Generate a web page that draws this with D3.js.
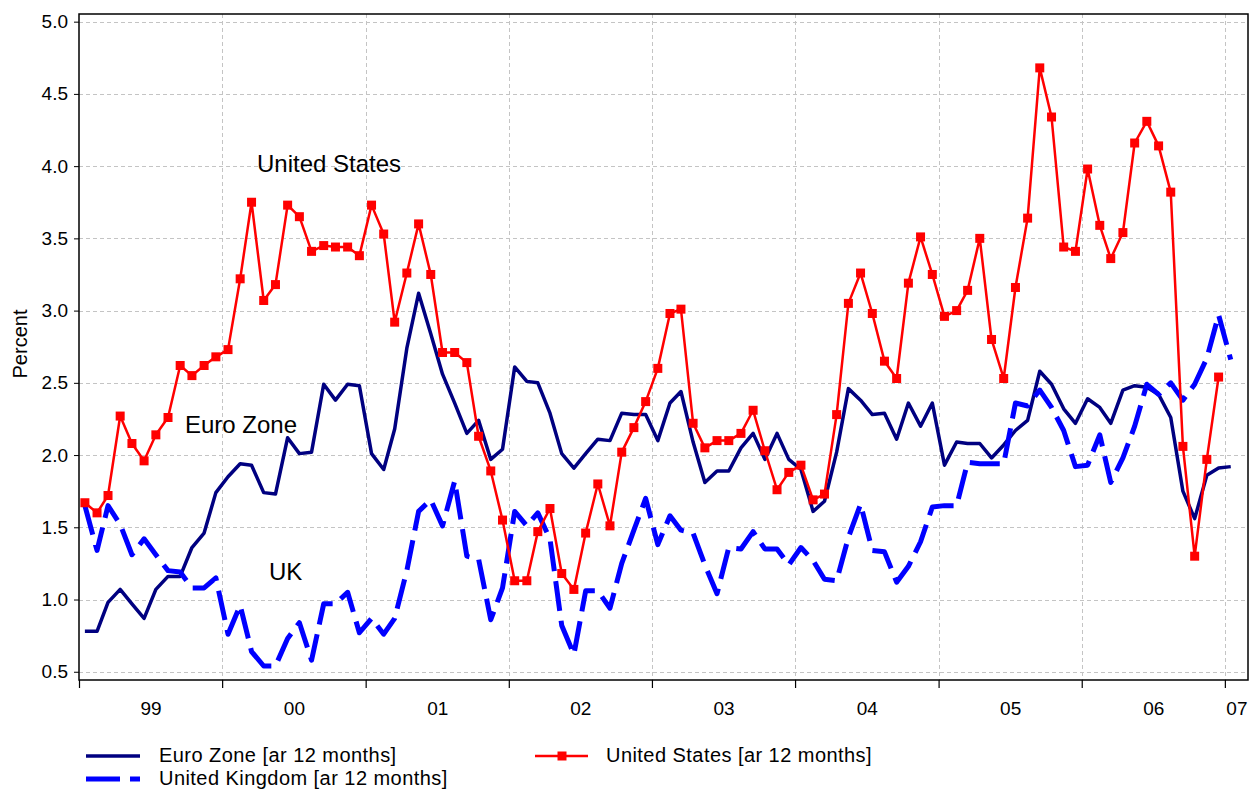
<!DOCTYPE html>
<html>
<head>
<meta charset="utf-8">
<script src="https://cdn.jsdelivr.net/npm/d3@7"></script>
<style>
  html, body { margin: 0; padding: 0; background: #fff; }
  svg { display: block; font-family: "Liberation Sans", Arial, sans-serif; }
</style>
</head>
<body>
<svg id="chart" width="1255" height="789"></svg>
<script>
// Monthly inflation, annual rate over 12 months (percent), from January 1999.
const startYear = 1999;

const euroZone = [
  0.78, 0.78, 0.98, 1.07, 0.97, 0.87, 1.07, 1.16, 1.16, 1.36, 1.46, 1.74,
  1.85, 1.94, 1.93, 1.74, 1.73, 2.12, 2.01, 2.02, 2.49, 2.38, 2.49, 2.48,
  2.01, 1.90, 2.18, 2.74, 3.12, 2.84, 2.56, 2.36, 2.15, 2.24, 1.97, 2.04,
  2.61, 2.51, 2.50, 2.29, 2.01, 1.91, 2.01, 2.11, 2.10, 2.29, 2.28, 2.28,
  2.10, 2.36, 2.44, 2.09, 1.81, 1.89, 1.89, 2.05, 2.15, 1.97, 2.15, 1.97,
  1.90, 1.61, 1.68, 2.02, 2.46, 2.38, 2.28, 2.29, 2.11, 2.36, 2.20, 2.36,
  1.93, 2.09, 2.08, 2.08, 1.98, 2.07, 2.17, 2.24, 2.58, 2.49, 2.32, 2.22,
  2.39, 2.33, 2.22, 2.45, 2.48, 2.47, 2.42, 2.26, 1.75, 1.56, 1.86, 1.91,
  1.92
];

const unitedKingdom = [
  1.65, 1.34, 1.65, 1.52, 1.31, 1.42, 1.31, 1.20, 1.19, 1.08, 1.08, 1.15,
  0.76, 0.96, 0.64, 0.54, 0.54, 0.73, 0.84, 0.58, 0.97, 0.97, 1.05, 0.77,
  0.87, 0.76, 0.87, 1.20, 1.61, 1.69, 1.51, 1.82, 1.30, 1.28, 0.86, 1.08,
  1.61, 1.51, 1.60, 1.42, 0.82, 0.62, 1.06, 1.06, 0.94, 1.25, 1.48, 1.70,
  1.38, 1.58, 1.48, 1.46, 1.24, 1.04, 1.36, 1.35, 1.47, 1.35, 1.35, 1.24,
  1.36, 1.27, 1.14, 1.13, 1.43, 1.66, 1.34, 1.33, 1.12, 1.23, 1.40, 1.64,
  1.65, 1.65, 1.95, 1.94, 1.94, 1.94, 2.36, 2.34, 2.45, 2.33, 2.17, 1.92,
  1.93, 2.14, 1.81, 1.98, 2.20, 2.49, 2.42, 2.50, 2.38, 2.49, 2.67, 2.97,
  2.66
];

const unitedStates = [
  1.67, 1.60, 1.72, 2.27, 2.08, 1.96, 2.14, 2.26, 2.62, 2.55, 2.62, 2.68,
  2.73, 3.22, 3.75, 3.07, 3.18, 3.73, 3.65, 3.41, 3.45, 3.44, 3.44, 3.38,
  3.73, 3.53, 2.92, 3.26, 3.60, 3.25, 2.71, 2.71, 2.64, 2.13, 1.89, 1.55,
  1.13, 1.13, 1.47, 1.63, 1.18, 1.07, 1.46, 1.80, 1.51, 2.02, 2.19, 2.37,
  2.60, 2.98, 3.01, 2.22, 2.05, 2.10, 2.10, 2.15, 2.31, 2.03, 1.76, 1.88,
  1.93, 1.69, 1.73, 2.28, 3.05, 3.26, 2.98, 2.65, 2.53, 3.19, 3.51, 3.25,
  2.96, 3.00, 3.14, 3.50, 2.80, 2.53, 3.16, 3.64, 4.68, 4.34, 3.44, 3.41,
  3.98, 3.59, 3.36, 3.54, 4.16, 4.31, 4.14, 3.82, 2.06, 1.30, 1.97, 2.54
];

const yTicks = [0.5, 1.0, 1.5, 2.0, 2.5, 3.0, 3.5, 4.0, 4.5, 5.0];
const yearLabels = ["99", "00", "01", "02", "03", "04", "05", "06", "07"];
const seriesNames = ["Euro Zone [ar 12 months]", "United States [ar 12 months]", "United Kingdom [ar 12 months]"];
const inlineNames = ["United States", "Euro Zone", "UK"];

// Layout
const svg = d3.select("#chart");
const plot = { left: 79, right: 1248, top: 14, bottom: 680 };
const FONT = '"Liberation Sans", Arial, sans-serif';

const monthDate = i => new Date(startYear, i, 16);
const x = d3.scaleTime()
  .domain([new Date(startYear, 0, 1), new Date(startYear + 8, 2, 1)])
  .range([plot.left, plot.right]);
const y = d3.scaleLinear()
  .domain([0.443, 5.053])
  .range([plot.bottom, plot.top]);

const yearStarts = yearLabels.map((_, k) => new Date(startYear + k, 0, 1));

// Grid
const grid = svg.append("g").attr("stroke", "#c4c4c4").attr("stroke-width", 1)
  .attr("stroke-dasharray", "4,3").attr("fill", "none");
grid.selectAll("line.h").data(yTicks).join("line").attr("class", "h")
  .attr("x1", plot.left).attr("x2", plot.right)
  .attr("y1", d => Math.round(y(d)) + 0.5).attr("y2", d => Math.round(y(d)) + 0.5);
grid.selectAll("line.v").data(yearStarts.slice(1)).join("line").attr("class", "v")
  .attr("x1", d => Math.round(x(d)) + 0.5).attr("x2", d => Math.round(x(d)) + 0.5)
  .attr("y1", plot.top).attr("y2", plot.bottom);

// Axes
const yAxis = svg.append("g")
  .attr("transform", `translate(${plot.left},0)`)
  .call(d3.axisLeft(y).tickValues(yTicks).tickFormat(d3.format(".1f")).tickSize(5).tickPadding(6));
yAxis.select(".domain").remove();
yAxis.selectAll("text").attr("font-size", 19).attr("font-family", FONT).attr("fill", "#000");
yAxis.selectAll("line").attr("stroke", "#000");

const xAxis = svg.append("g")
  .attr("transform", `translate(0,${plot.bottom})`)
  .call(d3.axisBottom(x).tickValues(yearStarts).tickFormat("").tickSize(8));
xAxis.select(".domain").remove();
xAxis.selectAll("line").attr("stroke", "#000").attr("stroke-width", 1.2);

// Year labels centred on the visible part of each year
const labelPos = yearStarts.map(d => {
  const a = x(d), b = Math.min(x(new Date(d.getFullYear() + 1, 0, 1)), plot.right);
  return (a + b) / 2;
});
const xLab = svg.append("g")
  .attr("transform", `translate(0,${plot.bottom})`)
  .call(d3.axisBottom(d3.scaleOrdinal().domain(yearLabels).range(labelPos))
    .tickSize(0).tickPadding(22));
xLab.select(".domain").remove();
xLab.selectAll("text").attr("font-size", 19).attr("font-family", FONT).attr("fill", "#000");

// Frame
svg.append("rect")
  .attr("x", plot.left).attr("y", plot.top)
  .attr("width", plot.right - plot.left).attr("height", plot.bottom - plot.top)
  .attr("fill", "none").attr("stroke", "#000").attr("stroke-width", 1.5);

// Y title
svg.append("text")
  .attr("transform", `translate(27,${(plot.top + plot.bottom) / 2 - 3}) rotate(-90)`)
  .attr("text-anchor", "middle").attr("font-size", 20).attr("font-family", FONT)
  .text("Percent");

// Series
const line = d3.line().x((d, i) => x(monthDate(i))).y(d => y(d));

svg.append("path").datum(euroZone)
  .attr("d", line).attr("fill", "none")
  .attr("stroke", "#000080").attr("stroke-width", 3.5).attr("stroke-linejoin", "round");

svg.append("path").datum(unitedKingdom)
  .attr("d", line).attr("fill", "none")
  .attr("stroke", "#0000ff").attr("stroke-width", 5)
  .attr("stroke-dasharray", "30,10").attr("stroke-linejoin", "round");

svg.append("path").datum(unitedStates)
  .attr("d", line).attr("fill", "none")
  .attr("stroke", "#ff0000").attr("stroke-width", 2.5).attr("stroke-linejoin", "round");

const MS = 9;
svg.append("g").selectAll("rect").data(unitedStates).join("rect")
  .attr("x", (d, i) => x(monthDate(i)) - MS / 2)
  .attr("y", d => y(d) - MS / 2)
  .attr("width", MS).attr("height", MS)
  .attr("fill", "#ff0000");

// In-plot series labels
const inline = svg.append("g").attr("font-size", 24).attr("font-family", FONT).attr("fill", "#000");
inline.append("text").attr("x", 257).attr("y", 172).text(inlineNames[0]);
inline.append("text").attr("x", 185).attr("y", 433).text(inlineNames[1]);
inline.append("text").attr("x", 269).attr("y", 580).text(inlineNames[2]);

// Legend
const legend = svg.append("g").attr("font-size", 20).attr("letter-spacing", "0.45px")
  .attr("font-family", FONT).attr("fill", "#000");
legend.append("line").attr("x1", 86).attr("x2", 140).attr("y1", 756).attr("y2", 756)
  .attr("stroke", "#000080").attr("stroke-width", 3.5);
legend.append("text").attr("x", 159).attr("y", 762).text(seriesNames[0]);

legend.append("line").attr("x1", 535).attr("x2", 588).attr("y1", 756).attr("y2", 756)
  .attr("stroke", "#ff0000").attr("stroke-width", 2.5);
legend.append("rect").attr("x", 562 - MS / 2).attr("y", 756 - MS / 2)
  .attr("width", MS).attr("height", MS).attr("fill", "#ff0000");
legend.append("text").attr("x", 606).attr("y", 762).text(seriesNames[1]);

legend.append("line").attr("x1", 86).attr("x2", 140).attr("y1", 779).attr("y2", 779)
  .attr("stroke", "#0000ff").attr("stroke-width", 5).attr("stroke-dasharray", "34,10");
legend.append("text").attr("x", 159).attr("y", 784.5).text(seriesNames[2]);
</script>
</body>
</html>
